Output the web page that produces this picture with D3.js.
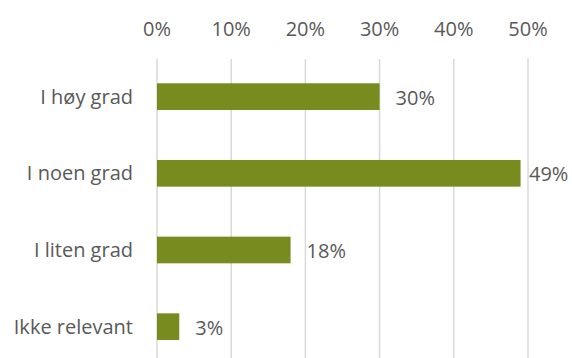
<!DOCTYPE html>
<html lang="no">
<head>
<meta charset="UTF-8">
<title>Grad</title>
<script src="https://cdn.jsdelivr.net/npm/d3@7"></script>
<style>
  body { margin: 0; background: white; }
  text { font-family: "Open Sans", sans-serif; font-size: 20px; fill: #595959; }
</style>
</head>
<body>
<svg id="chart" width="572" height="358"></svg>
<script>
var categories = ["I høy grad", "I noen grad", "I liten grad", "Ikke relevant"];
var values = [30, 49, 18, 3];
var ticks = [0, 10, 20, 30, 40, 50];

var W = 572, H = 358;
var svg = d3.select("#chart");

var x = d3.scaleLinear().domain([0, 50]).range([157, 528]);
var y = d3.scaleBand().domain(categories).range([58.3, 365])
    .paddingInner(0.652).paddingOuter(0.326);

// gridlines
svg.append("g").selectAll("line")
    .data(ticks)
    .enter().append("line")
    .attr("x1", d => x(d)).attr("x2", d => x(d))
    .attr("y1", 59).attr("y2", H)
    .attr("stroke", "#d9d9d9").attr("stroke-width", 1.5);

// top axis labels
svg.append("g").selectAll("text")
    .data(ticks)
    .enter().append("text")
    .attr("x", d => x(d)).attr("y", 35.5)
    .attr("text-anchor", "middle")
    .text(d => d + "%");

// bars
svg.append("g").selectAll("rect")
    .data(values)
    .enter().append("rect")
    .attr("x", x(0))
    .attr("y", (d, i) => y(categories[i]))
    .attr("width", d => x(d) - x(0))
    .attr("height", y.bandwidth())
    .attr("fill", "#778b1f");

// category labels
svg.append("g").selectAll("text")
    .data(categories)
    .enter().append("text")
    .attr("x", 133)
    .attr("y", d => y(d) + y.bandwidth() / 2 + 7)
    .attr("text-anchor", "end")
    .text(d => d);

// value labels
svg.append("g").selectAll("text")
    .data(values)
    .enter().append("text")
    .attr("x", d => Math.min(x(d) + 16, W - 43))
    .attr("y", (d, i) => y(categories[i]) + y.bandwidth() / 2 + 8)
    .text(d => d + "%");
</script>
</body>
</html>
